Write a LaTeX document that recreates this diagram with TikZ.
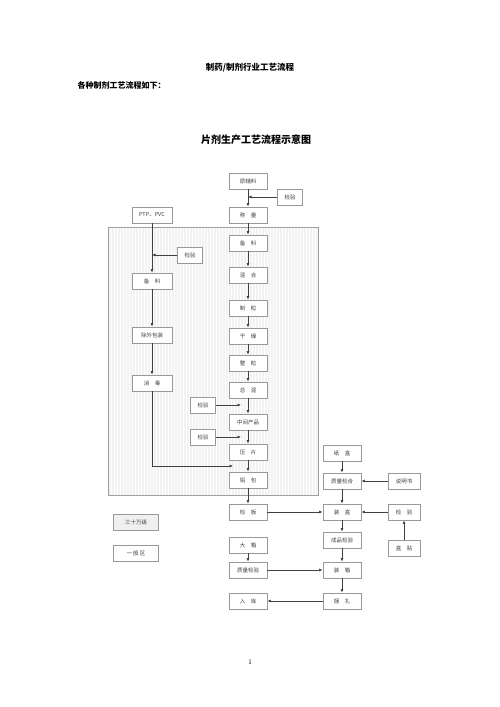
\documentclass[tikz,border=0pt]{standalone}
\usepackage{fontspec}
\newfontfamily\cjk{Noto Sans CJK SC}
\usetikzlibrary{arrows.meta,patterns}
\begin{document}
\begin{tikzpicture}[x=1pt,y=-1pt,
  box/.style={draw=gray!80,line width=0.9pt,fill=white,minimum width=38pt,minimum height=16pt,inner sep=0pt,font=\cjk\fontsize{5.5}{6}\selectfont,text=black!75},
  sbox/.style={box,minimum width=32pt},
  doc/.style={draw=gray!80,line width=0.8pt,fill=white,minimum width=25pt,minimum height=16pt,inner sep=0pt,font=\cjk\fontsize{5.5}{6}\selectfont,text=black!75,
    path picture={\fill[black!85] ([xshift=-3.5pt]path picture bounding box.south east) -- (path picture bounding box.south east) -- ([yshift=-3.5pt]path picture bounding box.south east) -- cycle;}},
  arr/.style={draw=black!75,line width=0.6pt,-{Latex[length=3.5pt,width=3pt]}},
  ln/.style={draw=black!75,line width=0.6pt}]
\useasboundingbox (0,0) rectangle (500,707);
\fill[white] (0,0) rectangle (500,707);
% headers
\node[font=\cjk\bfseries\fontsize{8.5}{10}\selectfont] (h1) at (250,68) {制药/制剂行业工艺流程};
\node[font=\cjk\bfseries\fontsize{8}{10}\selectfont,anchor=west] (h2) at (74,85) {各种制剂工艺流程如下：};
\node[font=\cjk\bfseries\fontsize{10}{12}\selectfont] (ttl) at (256,140) {片剂生产工艺流程示意图};
\node[font=\fontsize{7}{8}\selectfont] (pg) at (250,662) {1};
% clean area
\fill[gray!10] (108,227) rectangle (318,495);
\fill[pattern=vertical lines,pattern color=white] (108,227) rectangle (318,495);
\draw[gray!75,line width=0.8pt] (108,227) rectangle (318,495);
% main column
\node[box] (ylf) at (248,181) {原辅料};
\node[box] (cl) at (248,215) {称\quad 量};
\node[box] (bl) at (248,243) {备\quad 料};
\node[box] (hh) at (248,275) {混\quad 合};
\node[box] (zl) at (248,308) {制\quad 粒};
\node[box] (gz) at (248,336) {干\quad 燥};
\node[box] (zl2) at (248,363) {整\quad 粒};
\node[box] (zh) at (248,390) {总\quad 混};
\node[box] (zjcp) at (248,422) {中间产品};
\node[box] (yp) at (248,452) {压\quad 片};
\node[box] (lb) at (248,480) {铝\quad 包};
\node[box] (jb) at (248,512) {检\quad 板};
\node[box] (dx) at (248,545) {大\quad 箱};
\node[box] (zljy) at (248,570) {质量检验};
\node[box] (rk) at (248,601) {入\quad 库};
% checks main
\node[doc] (c1) at (290,197) {检验};
\node[doc] (c3) at (203,405) {检验};
\node[doc] (c4) at (203,437) {检验};
% left column
\node[box,minimum width=40pt] (ptp) at (152,215) {PTP、PVC};
\node[doc] (c2) at (190,255) {检验};
\node[box,minimum width=40pt] (bl2) at (152,281) {备\quad 料};
\node[box,minimum width=40pt] (cwbz) at (152,335) {除外包装};
\node[box,minimum width=40pt] (xd) at (152,383) {消\quad 毒};
\coordinate (lt) at (233,466);
% right column
\node[box] (zh2) at (342,453) {纸\quad 盒};
\node[box] (zljh) at (342,481) {质量检合};
\node[box] (zhe) at (342,512) {装\quad 盒};
\node[box] (cpjy) at (342,540) {成品检验};
\node[box] (zx) at (342,570) {装\quad 箱};
\node[box] (kz) at (342,601) {捆\quad 扎};
\node[sbox] (smsh) at (404,481) {说明书};
\node[sbox] (jy) at (404,512) {检\quad 验};
\node[sbox] (ht) at (404,548) {盒\quad 贴};
% legend
\node[box,minimum width=45pt,fill=gray!12] (lg1) at (136,522) {三十万级};
\node[box,minimum width=45pt] (lg2) at (136,553) {一\ 般\ 区};
% main arrows
\draw[arr] (ylf) -- (cl);
\draw[arr] (cl) -- (bl);
\draw[arr] (bl) -- (hh);
\draw[arr] (hh) -- (zl);
\draw[arr] (zl) -- (gz);
\draw[arr] (gz) -- (zl2);
\draw[arr] (zl2) -- (zh);
\draw[arr] (zh) -- (zjcp);
\draw[arr] (zjcp) -- (yp);
\draw[arr] (yp) -- (lb);
\draw[arr] (lb) -- (jb);
\draw[arr] (dx) -- (zljy);
\draw[arr] (c1.west) -- (c1.west -| cl.center);
\draw[arr] (c3.east) -- ([xshift=-7pt]c3.east -| zh.center);
\draw[arr] (c4.east) -- ([xshift=-7pt]c4.east -| zh.center);
% left arrows
\draw[arr] (ptp) -- (bl2);
\draw[arr] (c2.west) -- (c2.west -| ptp.center);
\draw[arr] (bl2) -- (cwbz);
\draw[arr] (cwbz) -- (xd);
\draw[arr] (xd.south) |- (lt);
% right arrows
\draw[arr] (zh2) -- (zljh);
\draw[arr] (zljh) -- (zhe);
\draw[arr] (zhe) -- (cpjy);
\draw[arr] (cpjy) -- (zx);
\draw[arr] (zx) -- (kz);
\draw[arr] (smsh) -- (zljh);
\draw[arr] (jy) -- (zhe);
\draw[arr] (ht) -- (jy);
\draw[arr] (jb) -- (zhe);
\draw[arr] (zljy) -- (zx);
\draw[arr] (kz) -- (rk);
\end{tikzpicture}
\end{document}
